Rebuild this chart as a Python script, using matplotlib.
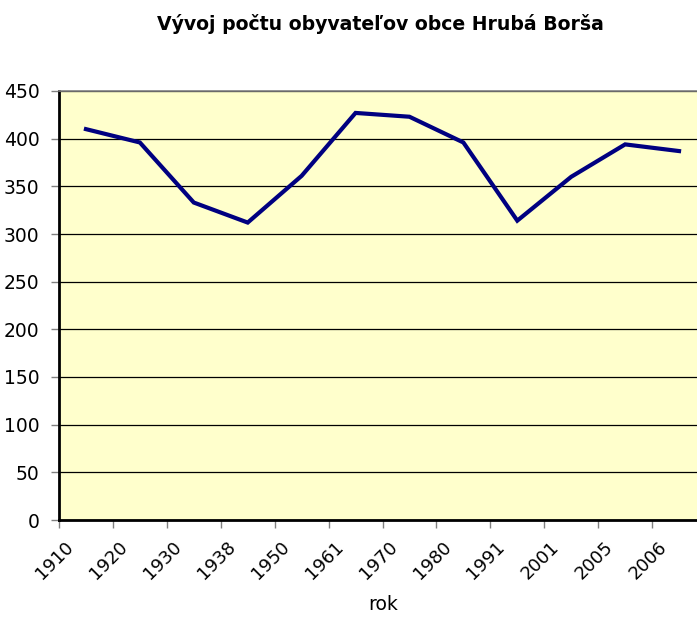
import matplotlib
matplotlib.use("Agg")
import matplotlib.pyplot as plt

# census years and population counts
years = ["1910", "1920", "1930", "1938", "1950", "1961",
         "1970", "1980", "1991", "2001", "2005", "2006"]
population = [410, 396, 333, 312, 361, 427, 423, 396, 314, 360, 394, 387]
y_ticks = list(range(0, 451, 50))

title = "Vývoj počtu obyvateľov obce Hrubá Borša"
xlabel = "rok"

plt.rcParams['font.family'] = 'DejaVu Sans'

fig = plt.figure(figsize=(6.97, 6.17), dpi=100)
W, H = 697, 617
# plot area runs past the right edge of the picture (clipped, like the original)
left, right, top, bottom = 59, 706, 91, 520
ax = fig.add_axes([left / W, 1 - bottom / H, (right - left) / W, (bottom - top) / H])
ax.set_facecolor('#FFFFCC')

n = len(years)
xs = list(range(n))
ax.plot(xs, population, color='#000080', lw=3, solid_joinstyle='miter', zorder=3)

ax.set_xlim(-0.5, n - 0.5)
ax.set_ylim(0, 450)

# horizontal gridlines
ax.set_yticks(y_ticks)
ax.yaxis.grid(True, color='black', lw=0.9)
ax.set_axisbelow(True)

ax.tick_params(axis='y', direction='out', length=6, width=1, color='#808080',
               labelsize=13.5, pad=8)

# category boundaries get tick marks, labels sit near the boundary
ax.set_xticks([i - 0.5 for i in range(n)])
ax.set_xticklabels([])
ax.tick_params(axis='x', which='major', direction='out', length=6, width=1,
               color='#808080')
ax.set_xticks([i - 0.4 for i in range(n)], minor=True)
ax.set_xticklabels(years, minor=True, rotation=45, ha='right',
                   rotation_mode='anchor', fontsize=13)
ax.tick_params(axis='x', which='minor', length=0, pad=13)

for s in ['left', 'bottom']:
    ax.spines[s].set_color('black')
    ax.spines[s].set_linewidth(2)
ax.spines['top'].set_color('#808080')
ax.spines['top'].set_linewidth(1.2)
ax.spines['right'].set_visible(False)

fig.text(380 / W, 1 - 24 / H, title, ha='center', va='center',
         fontsize=13.6, fontweight='bold')
fig.text(383 / W, 1 - 605 / H, xlabel, ha='center', va='center', fontsize=13.5)

fig.savefig('out.png', dpi=100)
